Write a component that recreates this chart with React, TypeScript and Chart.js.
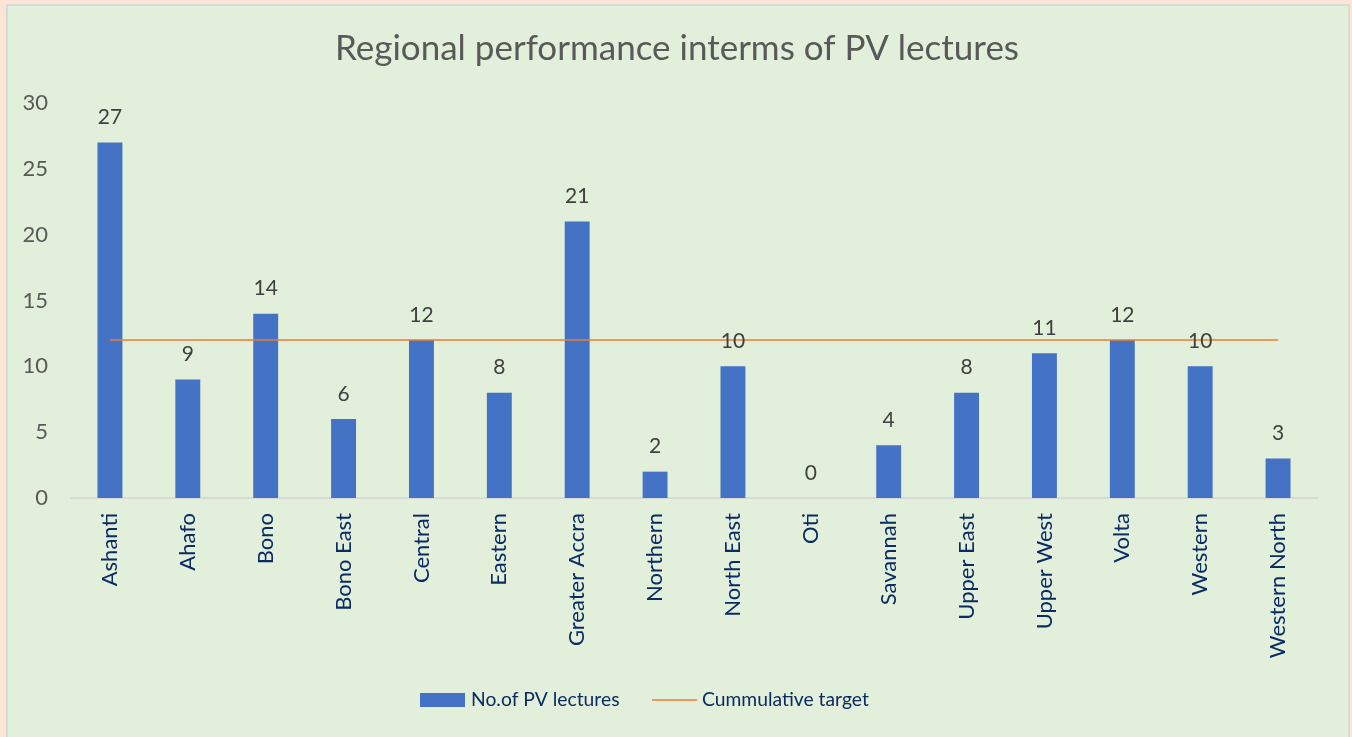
import React, { useEffect, useRef } from "react";
import { Chart, registerables } from "chart.js";

Chart.register(...registerables);

const categories = [
  "Ashanti", "Ahafo", "Bono", "Bono East", "Central", "Eastern", "Greater Accra",
  "Northern", "North East", "Oti", "Savannah", "Upper East", "Upper West", "Volta",
  "Western", "Western North",
];
const lectures = [27, 9, 14, 6, 12, 8, 21, 2, 10, 0, 4, 8, 11, 12, 10, 3];
const target = [12, 12, 12, 12, 12, 12, 12, 12, 12, 12, 12, 12, 12, 12, 12, 12];
const yTicks = [0, 5, 10, 15, 20, 25, 30];
const title = "Regional performance interms of PV lectures";
const seriesNames = ["No.of PV lectures", "Cummulative target"];

const FONT = "Lato, 'Open Sans', sans-serif";
const BAR = "#4472C4";
const LINE = "#ED7D31";
const NAVY = "#0B2B63";

const decorPlugin = {
  id: "decor",
  afterDraw(chart: any) {
    const ctx = chart.ctx;
    ctx.save();
    // title
    ctx.fillStyle = "#595959";
    ctx.font = `35px ${FONT}`;
    ctx.textAlign = "center";
    ctx.textBaseline = "middle";
    ctx.fillText(title, 677, 49);
    // data labels
    const meta = chart.getDatasetMeta(0);
    ctx.fillStyle = "#404040";
    ctx.font = `21px ${FONT}`;
    meta.data.forEach((el: any, i: number) => {
      ctx.fillText(String(lectures[i]), el.x, el.y - 25);
    });
    // legend
    ctx.textAlign = "left";
    ctx.font = `19.3px ${FONT}`;
    ctx.fillStyle = BAR;
    ctx.fillRect(420, 693, 45, 14);
    ctx.fillStyle = NAVY;
    ctx.fillText(seriesNames[0], 471, 700);
    ctx.strokeStyle = LINE;
    ctx.lineWidth = 1.5;
    ctx.beginPath();
    ctx.moveTo(652, 700);
    ctx.lineTo(697, 700);
    ctx.stroke();
    ctx.fillStyle = NAVY;
    ctx.fillText(seriesNames[1], 702, 700);
    ctx.restore();
  },
};

export default function App() {
  const ref = useRef<HTMLCanvasElement>(null);
  useEffect(() => {
    document.body.style.margin = "0";
    const chart = new Chart(ref.current!, {
      type: "bar",
      data: {
        labels: categories,
        datasets: [
          {
            type: "bar",
            label: seriesNames[0],
            data: lectures,
            backgroundColor: BAR,
            barPercentage: 0.32 / 0.8,
            categoryPercentage: 0.8,
            order: 2,
          },
          {
            type: "line",
            label: seriesNames[1],
            data: target,
            borderColor: LINE,
            borderWidth: 1.5,
            pointRadius: 0,
            fill: false,
            order: 1,
          } as any,
        ],
      },
      options: {
        responsive: false,
        animation: false,
        devicePixelRatio: 1,
        layout: { padding: { left: 0, right: 35, top: 103, bottom: 0 } },
        plugins: {
          legend: { display: false },
          title: { display: false },
          tooltip: { enabled: false },
        },
        scales: {
          x: {
            offset: true,
            grid: { display: false, drawTicks: false },
            border: { display: true, color: "#D9D9D9", width: 2 },
            ticks: {
              color: NAVY,
              font: { family: FONT, size: 22 },
              maxRotation: 90,
              minRotation: 90,
              padding: 15,
              autoSkip: false,
            },
            afterFit: (s: any) => {
              s.height = 239;
            },
          },
          y: {
            min: 0,
            max: 30,
            afterBuildTicks: (s: any) => {
              s.ticks = yTicks.map((v) => ({ value: v }));
            },
            grid: { display: false, drawTicks: false },
            border: { display: false },
            ticks: {
              color: "#595959",
              font: { family: FONT, size: 22 },
              padding: 23,
            },
            afterFit: (s: any) => {
              s.width = 71;
            },
          },
        },
      },
      plugins: [decorPlugin],
    });
    return () => chart.destroy();
  }, []);
  return (
    <div style={{ position: "fixed", left: 0, top: 0, width: 1352, height: 737, background: "#FCE4D6", overflow: "hidden" }}>
      <div
        style={{
          position: "absolute",
          left: 6,
          top: 4,
          width: 1340,
          height: 760,
          background: "#E2EFDA",
          border: "2px solid #D6DBD3",
        }}
      />
      <canvas ref={ref} width={1352} height={737} style={{ position: "absolute", left: 0, top: 0, width: 1352, height: 737 }} />
    </div>
  );
}
